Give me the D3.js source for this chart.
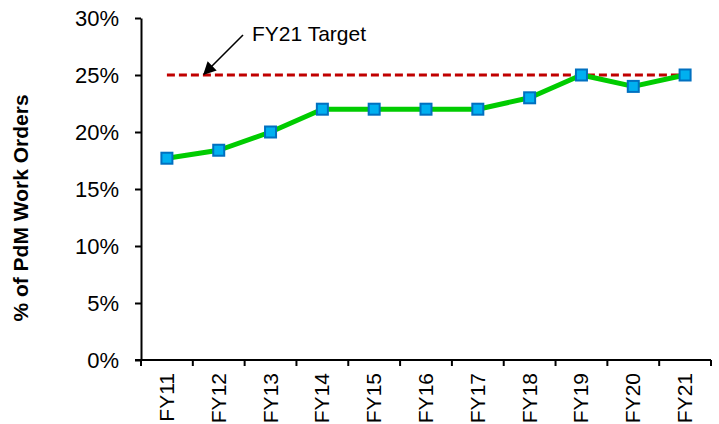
<!DOCTYPE html>
<html>
<head>
<meta charset="utf-8">
<script src="https://cdn.jsdelivr.net/npm/d3@7"></script>
<style>
  html, body { margin: 0; padding: 0; background: #fff; }
  svg { display: block; font-family: Arial, "Liberation Sans", sans-serif; }
</style>
</head>
<body>
<svg id="chart" width="719" height="424"></svg>
<script>
// Fiscal years and share of PdM work orders (%)
const categories = ["FY11","FY12","FY13","FY14","FY15","FY16","FY17","FY18","FY19","FY20","FY21"];
const pdmShare = [17.7, 18.4, 20, 22, 22, 22, 22, 23, 25, 24, 25];
const targetValue = 25;
const targetLabel = "FY21 Target";
const yTicks = [0, 5, 10, 15, 20, 25, 30];
const yTitle = "% of PdM Work Orders";

const svg = d3.select("#chart");
const plot = { left: 141, right: 711, top: 18, bottom: 360 };

const x = d3.scaleBand().domain(categories).range([plot.left, plot.right]).padding(0);
const y = d3.scaleLinear().domain([0, 30]).range([plot.bottom, plot.top]);
const cx = d => x(d) + x.bandwidth() / 2;

// Y axis
const yAxis = svg.append("g")
  .attr("transform", `translate(${plot.left},0)`)
  .call(d3.axisLeft(y).tickValues(yTicks).tickFormat(d => d + "%").tickSize(6).tickSizeOuter(0));
yAxis.select(".domain").attr("stroke", "#000").attr("stroke-width", 2);
yAxis.selectAll(".tick line").attr("stroke", "#000").attr("stroke-width", 2);
yAxis.selectAll(".tick text")
  .attr("x", -22).attr("dy", "0.36em").attr("font-size", 22).attr("fill", "#000")
  .attr("font-family", "Arial, 'Liberation Sans', sans-serif");

// X axis, ticks on category boundaries
const xAxis = svg.append("g").attr("transform", `translate(0,${plot.bottom})`);
xAxis.append("line")
  .attr("x1", plot.left - 6).attr("x2", plot.right)
  .attr("stroke", "#000").attr("stroke-width", 2);
const boundaries = categories.map(c => x(c)).concat([plot.right]);
xAxis.selectAll("line.tick").data(boundaries).enter().append("line")
  .attr("class", "tick")
  .attr("x1", d => d).attr("x2", d => d)
  .attr("y1", 0).attr("y2", 6)
  .attr("stroke", "#000").attr("stroke-width", 2);
xAxis.selectAll("text").data(categories).enter().append("text")
  .attr("transform", d => `translate(${cx(d) + 7},13) rotate(-90)`)
  .attr("text-anchor", "end")
  .attr("font-size", 21)
  .attr("fill", "#000")
  .text(d => d);

// Y axis title
svg.append("text")
  .attr("transform", `translate(28,208) rotate(-90)`)
  .attr("text-anchor", "middle")
  .attr("font-size", 21)
  .attr("font-weight", "bold")
  .attr("fill", "#000")
  .text(yTitle);

// Target line
svg.append("line")
  .attr("x1", cx(categories[0])).attr("x2", cx(categories[categories.length - 1]))
  .attr("y1", y(targetValue)).attr("y2", y(targetValue))
  .attr("stroke", "#C00000").attr("stroke-width", 3)
  .attr("stroke-dasharray", "8,4");

// Series line
svg.append("path")
  .datum(pdmShare)
  .attr("fill", "none")
  .attr("stroke", "#00CC00")
  .attr("stroke-width", 5)
  .attr("stroke-linejoin", "round")
  .attr("d", d3.line().x((d, i) => cx(categories[i])).y(d => y(d)));

// Square markers
const m = 11;
svg.selectAll("rect.marker").data(pdmShare).enter().append("rect")
  .attr("class", "marker")
  .attr("x", (d, i) => cx(categories[i]) - m / 2)
  .attr("y", d => y(d) - m / 2)
  .attr("width", m).attr("height", m)
  .attr("fill", "#00B0F0")
  .attr("stroke", "#0070C0")
  .attr("stroke-width", 2);

// Annotation arrow and label
const defs = svg.append("defs");
defs.append("marker")
  .attr("id", "arrowhead")
  .attr("viewBox", "0 0 10 10")
  .attr("refX", 9).attr("refY", 5)
  .attr("markerWidth", 9).attr("markerHeight", 8)
  .attr("markerUnits", "strokeWidth")
  .attr("orient", "auto")
  .append("path")
  .attr("d", "M0,0 L10,5 L0,10 Z")
  .attr("fill", "#000");

svg.append("line")
  .attr("x1", 243).attr("y1", 35)
  .attr("x2", 204).attr("y2", y(targetValue) - 1)
  .attr("stroke", "#000").attr("stroke-width", 1.6)
  .attr("marker-end", "url(#arrowhead)");

svg.append("text")
  .attr("x", 252).attr("y", 41)
  .attr("font-size", 21)
  .attr("fill", "#000")
  .text(targetLabel);
</script>
</body>
</html>
